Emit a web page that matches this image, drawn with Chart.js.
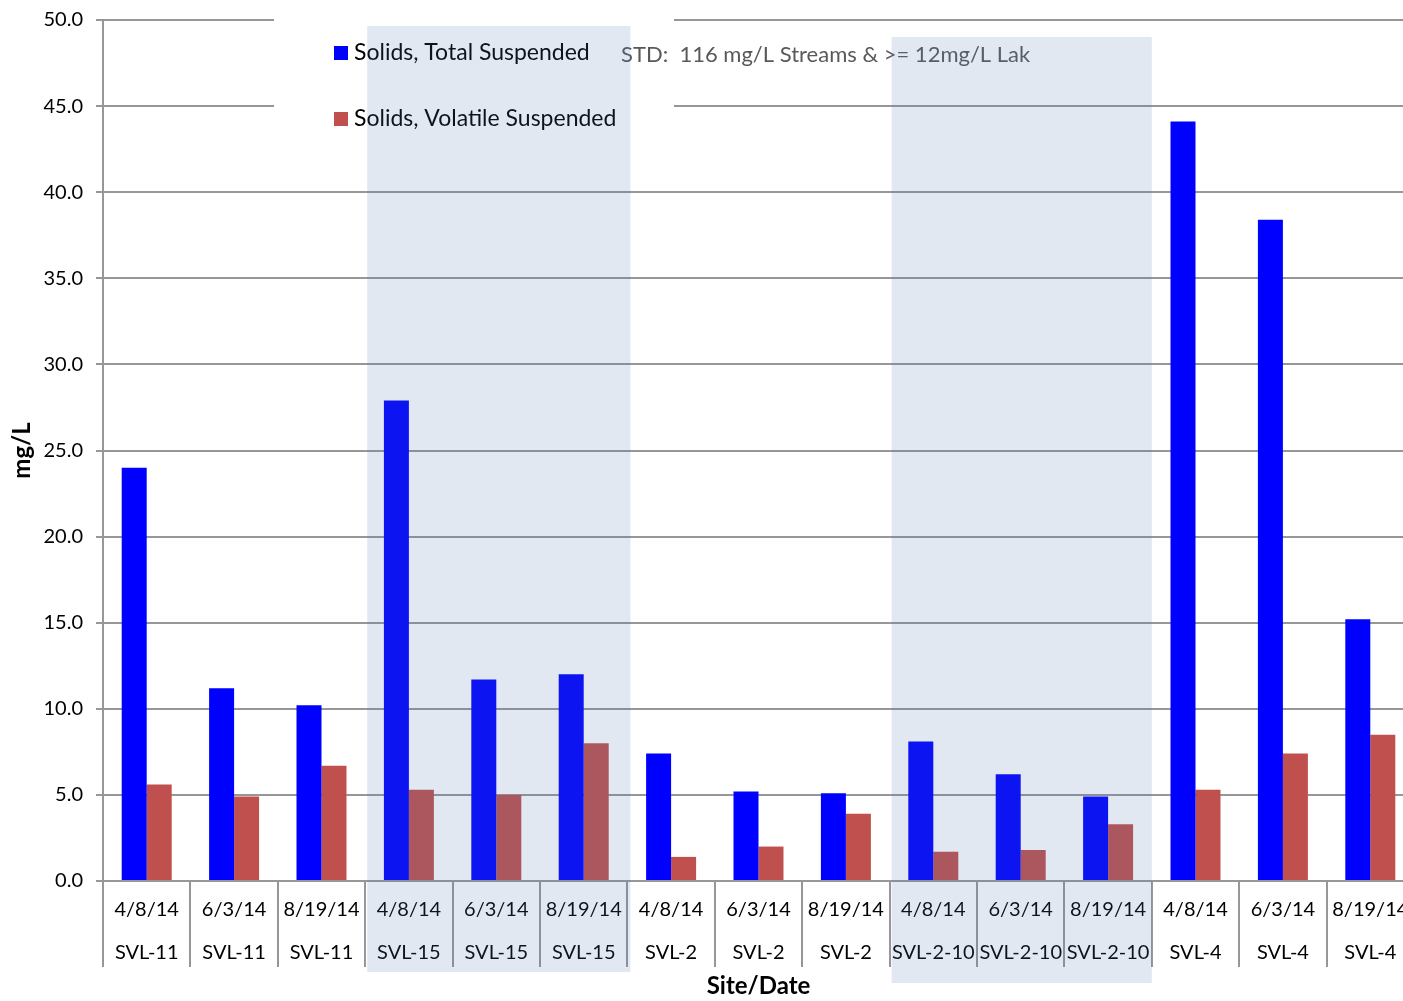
<!DOCTYPE html>
<html lang="en">
<head>
<meta charset="UTF-8">
<title>Suspended Solids by Site/Date</title>
<style>
  html, body { margin: 0; padding: 0; background: #fff; overflow: hidden; }
  #wrap { width: 1420px; height: 1001px; }
</style>
</head>
<body>
<div id="wrap"><canvas id="solidsChart" width="1420" height="1001"></canvas></div>

<script src="https://cdn.jsdelivr.net/npm/chart.js"></script>
<script>
// data
const dates = ['4/8/14', '6/3/14', '8/19/14', '4/8/14', '6/3/14', '8/19/14', '4/8/14', '6/3/14', '8/19/14',
               '4/8/14', '6/3/14', '8/19/14', '4/8/14', '6/3/14', '8/19/14'];
const sites = ['SVL-11', 'SVL-11', 'SVL-11', 'SVL-15', 'SVL-15', 'SVL-15', 'SVL-2', 'SVL-2', 'SVL-2',
               'SVL-2-10', 'SVL-2-10', 'SVL-2-10', 'SVL-4', 'SVL-4', 'SVL-4'];
const totalSuspended    = [24.0, 11.2, 10.2, 27.9, 11.7, 12.0, 7.4, 5.2, 5.1, 8.1, 6.2, 4.9, 44.1, 38.4, 15.2];
const volatileSuspended = [5.6, 4.9, 6.7, 5.3, 5.0, 8.0, 1.4, 2.0, 3.9, 1.7, 1.8, 3.3, 5.3, 7.4, 8.5];
const seriesNames = ['Solids, Total Suspended', 'Solids, Volatile Suspended'];
const seriesColors = ['#0000FF', '#C0504D'];
const shadedGroups = [[3, 5], [9, 11]];   // first and last category index of each shaded site
const stdNote = 'STD:  116 mg/L Streams & >= 12mg/L Lak';
const yMin = 0, yMax = 50, yStep = 5;

const FONT = 'Lato, "Noto Sans", sans-serif';
const gridGray = '#979797';

const decorations = {
    id: 'decorations',
    afterDatasetsDraw(chart) {
        const ctx = chart.ctx;
        ctx.save();
        // legend box hides the grid lines behind it
        ctx.fillStyle = '#fff';
        ctx.fillRect(274, 12, 400, 102);

        ctx.font = '23px ' + FONT;
        ctx.textBaseline = 'middle';
        ctx.textAlign = 'left';
        chart.data.datasets.forEach((ds, i) => {
            const y = 53 + i * 66;
            ctx.fillStyle = ds.backgroundColor;
            ctx.fillRect(334, y - 7, 14, 14);
            ctx.fillStyle = '#000';
            ctx.fillText(ds.label, 354, y);
        });

        ctx.font = '22px ' + FONT;
        ctx.fillStyle = '#595959';
        ctx.fillText(stdNote, 621, 55);
        ctx.restore();
    },
    afterDraw(chart) {
        const ctx = chart.ctx;
        const x = chart.scales.x;
        const area = chart.chartArea;
        const half = (x.getPixelForValue(1) - x.getPixelForValue(0)) / 2;
        ctx.save();
        ctx.fillStyle = 'rgba(80, 120, 180, 0.17)';
        shadedGroups.forEach(([a, b], k) => {
            const left = x.getPixelForValue(a) - half + 2;
            const right = x.getPixelForValue(b) + half + (k === 0 ? 3 : 0);
            const top = area.top + (k === 0 ? 6 : 17);
            const bottom = area.bottom + (k === 0 ? 91 : 102);
            ctx.fillRect(left, top, right - left, bottom - top);
        });
        ctx.restore();
    }
};

new Chart(document.getElementById('solidsChart'), {
    type: 'bar',
    data: {
        labels: dates.map((d, i) => [d, sites[i]]),
        datasets: [
            { label: seriesNames[0], data: totalSuspended, backgroundColor: seriesColors[0] },
            { label: seriesNames[1], data: volatileSuspended, backgroundColor: seriesColors[1] }
        ]
    },
    options: {
        responsive: false,
        animation: false,
        events: [],
        layout: { padding: { top: 20, right: 6, left: 0, bottom: 0 } },
        datasets: { bar: { categoryPercentage: 0.572, barPercentage: 1.0 } },
        plugins: {
            legend: { display: false },
            tooltip: { enabled: false }
        },
        scales: {
            x: {
                grid: { offset: true, drawOnChartArea: false, tickLength: 86, color: gridGray, lineWidth: 2 },
                border: { color: gridGray, width: 2 },
                ticks: {
                    autoSkip: false, maxRotation: 0, minRotation: 0, padding: -78.5,
                    color: '#000', font: { family: FONT, size: 20, lineHeight: 43 / 20 }
                },
                title: {
                    display: true, text: 'Site/Date', color: '#000',
                    font: { family: FONT, size: 24, weight: 'bold' }, padding: { top: 0, bottom: 0 }
                },
                afterFit(scale) {
                    scale.height = 120;
                    scale.paddingLeft = 0;
                    scale.paddingRight = 0;
                }
            },
            y: {
                min: yMin, max: yMax,
                grid: { color: gridGray, lineWidth: 2, tickLength: 7 },
                border: { color: gridGray, width: 2 },
                ticks: {
                    stepSize: yStep, padding: 13, color: '#000',
                    font: { family: FONT, size: 20 },
                    callback: v => v.toFixed(1)
                },
                title: {
                    display: true, text: 'mg/L', color: '#000',
                    font: { family: FONT, size: 24, weight: 'bold' }, padding: { top: 8, bottom: 0 }
                },
                afterFit(scale) {
                    scale.width = 103;
                    scale.paddingTop = 0;
                    scale.paddingBottom = 0;
                }
            }
        }
    },
    plugins: [decorations]
});
</script>
</body>
</html>
